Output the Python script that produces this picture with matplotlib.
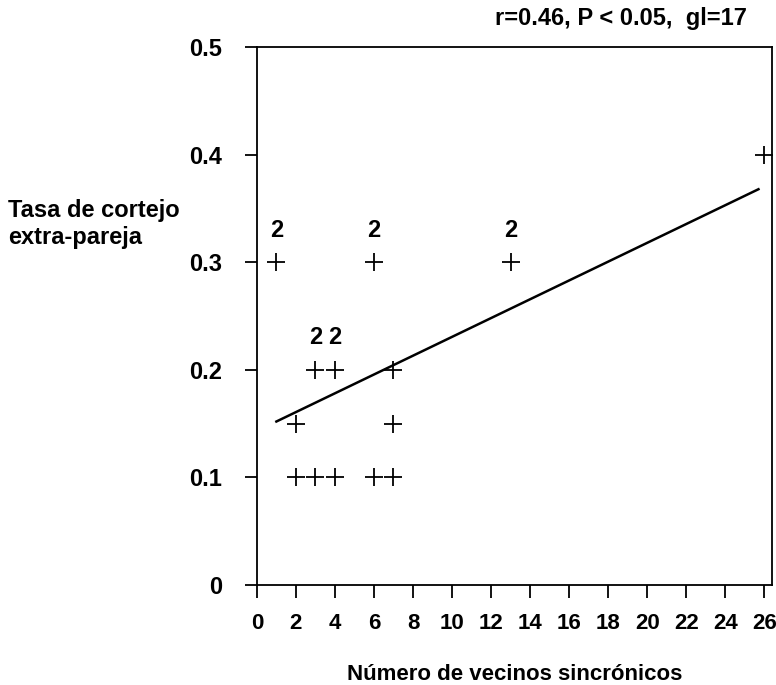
import matplotlib
matplotlib.use('Agg')
import matplotlib.pyplot as plt

plt.rcParams['font.family'] = ['Liberation Sans', 'DejaVu Sans']
plt.rcParams['font.weight'] = 'bold'

# Datos
vecinos = [1, 2, 2, 3, 4, 3, 4, 6, 6, 7, 7, 7, 13, 26]
tasa = [0.3, 0.15, 0.1, 0.1, 0.1, 0.2, 0.2, 0.3, 0.1, 0.1, 0.2, 0.15, 0.3, 0.4]
repeticiones = [2, 1, 1, 1, 1, 2, 2, 2, 1, 1, 1, 1, 2, 1]

# Recta de regresion (extremos)
recta_x = [1, 25.7]
recta_y = [0.152, 0.368]

xticks = list(range(0, 27, 2))
yticks = [0, 0.1, 0.2, 0.3, 0.4, 0.5]
ytick_labels = ['0', '0.1', '0.2', '0.3', '0.4', '0.5']

fs = 17

fig = plt.figure(figsize=(7.76, 6.85), dpi=100)
ax = fig.add_axes([0.331, 0.146, 0.664, 0.785])

ax.plot(recta_x, recta_y, color='black', lw=1.8, zorder=2)
ax.plot(vecinos, tasa, linestyle='none', marker='+', color='black',
        markersize=13, markeredgewidth=1.3, zorder=3)

for x, y, n in zip(vecinos, tasa, repeticiones):
    if n > 1:
        ax.text(x, y + 0.03, str(n), ha='center', va='center',
                fontsize=fs, fontweight='bold')

ax.set_xlim(0, 26.4)
ax.set_ylim(0, 0.5)
ax.set_xticks(xticks)
ax.set_yticks(yticks)
ax.set_yticklabels(ytick_labels)
ax.tick_params(axis='both', direction='out', length=9, width=1.3,
               color='black')
ax.tick_params(axis='y', pad=16, labelsize=fs)
ax.tick_params(axis='x', pad=11, labelsize=16)
for lbl in ax.get_xticklabels() + ax.get_yticklabels():
    lbl.set_fontweight('bold')
for sp in ax.spines.values():
    sp.set_linewidth(1.3)

ax.set_xlabel('Número de vecinos sincrónicos', fontsize=16,
              fontweight='bold', labelpad=22)

fig.text(8 / 776, 1 - 224 / 685, 'Tasa de cortejo\nextra-pareja',
         ha='left', va='center', fontsize=fs, fontweight='bold',
         linespacing=1.2)

fig.text(621 / 776, 1 - 18 / 685, 'r=0.46, P < 0.05,  gl=17',
         ha='center', va='center', fontsize=fs, fontweight='bold')

fig.savefig('out.png', dpi=100)
